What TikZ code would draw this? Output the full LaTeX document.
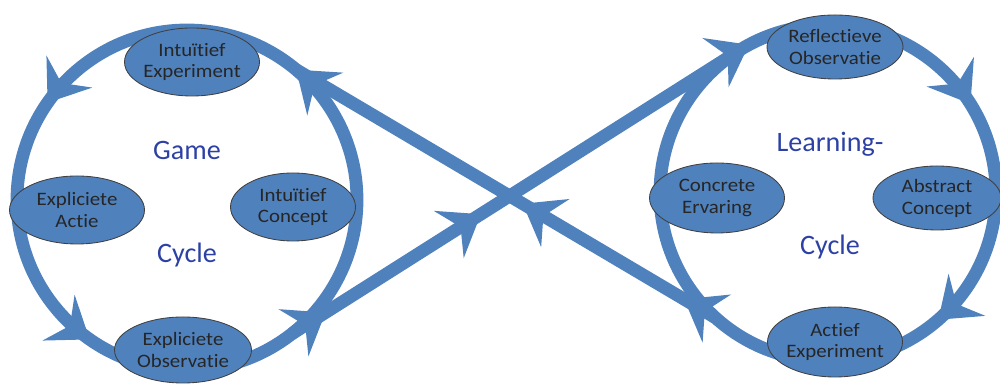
\documentclass[tikz,border=0pt]{standalone}
\usepackage{fontspec}
\setmainfont{Carlito}[Ligatures=NoCommon]
\newfontfamily\phasefont{Carlito}[Ligatures=NoCommon, FakeStretch=1.1]
\usepackage{tikz}
\usetikzlibrary{shapes.geometric, arrows.meta, decorations.markings, calc}

\definecolor{loopblue}{RGB}{79,129,189}
\definecolor{cycletext}{RGB}{45,65,165}

\begin{document}
\begin{tikzpicture}[
    phase/.style={
        ellipse, draw=black!75, line width=0.6pt,
        fill=loopblue, text=black!85,
        minimum width=3.375cm, minimum height=1.7cm,
        inner xsep=-2pt, inner ysep=0pt, align=center,
        font=\phasefont\fontsize{13.5}{15.6}\selectfont
    },
    title/.style={text=cycletext, anchor=base, font=\fontsize{20}{24}\selectfont},
    flow/.style={draw=loopblue, line width=0.32cm},
    bighead/.tip={Stealth[length=0.95cm, width=1.4cm, inset=0.35cm, line width=0pt]},
]
\useasboundingbox (0,0) rectangle (25,9.625);

% Middelpunten
\coordinate (gc) at (4.675, 4.625);
\coordinate (lc) at (20.7, 4.8);

% Aansluitpunten van de kruising
\coordinate (g-ne) at ($(gc)+(50:4.25)$);
\coordinate (g-se) at ($(gc)+(-52:4.25)$);
\coordinate (l-nw) at ($(lc)+(125:4.2)$);
\coordinate (l-sw) at ($(lc)+(228:4.2)$);

% Game cycle (tegen de klok in)
\draw[flow, postaction={decorate}, decoration={markings,
        mark=at position 0.139 with {\arrow{bighead}},
        mark=at position 0.403 with {\arrow{bighead}},
        mark=at position 0.653 with {\arrow{bighead}}}]
    (gc) circle (4.25);

% Learning cycle (met de klok mee)
\draw[flow, postaction={decorate}, decoration={markings,
        mark=at position 0.089 with {\arrowreversed{bighead}},
        mark=at position 0.328 with {\arrowreversed{bighead}},
        mark=at position 0.864 with {\arrowreversed{bighead}}}]
    (lc) circle (4.2);

% Game -> Learning
\draw[flow, postaction={decorate}, decoration={markings,
        mark=at position 0.077 with {\arrow{bighead}},
        mark=at position 0.43 with {\arrow{bighead}}}]
    (g-se) -- (l-nw);

% Learning -> Game
\draw[flow, postaction={decorate}, decoration={markings,
        mark=at position 0.075 with {\arrow{bighead}},
        mark=at position 0.46 with {\arrow{bighead}}}]
    (l-sw) -- (g-ne);

% Fasen game cycle
\node[phase] (ie) at (4.8, 8.075)   {Intuïtief\\Experiment};
\node[phase] (ea) at (1.925, 4.375) {Expliciete\\Actie};
\node[phase, minimum width=3.125cm] (ic) at (7.325, 4.45) {Intuïtief\\Concept};
\node[phase, minimum width=3.425cm, minimum height=1.65cm] (eo) at (4.575, 0.875) {Expliciete\\Observatie};

% Fasen learning cycle
\node[phase, minimum width=3.4cm, minimum height=1.6cm] (ro) at (20.875, 8.45) {Reflectieve\\Observatie};
\node[phase, minimum height=1.75cm] (ce) at (17.925, 4.675) {Concrete\\Ervaring};
\node[phase, minimum width=3.2cm, minimum height=1.6cm] (ac) at (23.425, 4.675) {Abstract\\Concept};
\node[phase, minimum height=1.75cm] (ae) at (20.875, 1.075) {Actief\\Experiment};

% Titels
\node[title] (game)  at (4.675, 5.625) {Game};
\node[title] (gcyc)  at (4.675, 3.05)  {Cycle};
\node[title] (learn) at (20.75, 5.825) {Learning-};
\node[title] (lcyc)  at (20.75, 3.25)  {Cycle};

\end{tikzpicture}
\end{document}
